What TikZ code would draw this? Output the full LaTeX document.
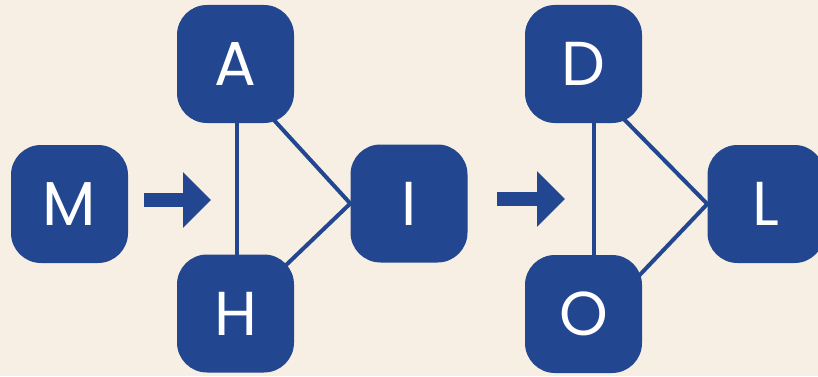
\documentclass[tikz,border=0pt]{standalone}
\usepackage{fontspec}
\setmainfont{Poppins}
\usetikzlibrary{arrows.meta}
\definecolor{letterblue}{RGB}{34,70,143}
\definecolor{paper}{RGB}{247,239,227}
\pgfdeclarelayer{paperlayer}
\pgfdeclarelayer{links}
\pgfsetlayers{paperlayer,links,main}

\begin{document}
\begin{tikzpicture}[x=1pt, y=1pt,
    letter/.style ={rectangle, rounded corners=30pt, fill=letterblue, text=white,
      minimum width=117pt, minimum height=118pt, inner sep=0pt,
      font=\fontsize{62}{62}\selectfont},
    link/.style ={draw=letterblue, line width=4pt},
    blockarrow/.style ={draw=letterblue, line width=14pt,
      -{Triangle[length=28pt, width=54pt]}}]
   \useasboundingbox (0,0) rectangle (818,376);
   \begin{pgfonlayer}{paperlayer}
     \fill[paper] (0,0) rectangle (818,376);
   \end{pgfonlayer}

   \node[letter] (M) at (69.5,172) {M};
   \node[letter] (A) at (235.5,312) {A};
   \node[letter] (H) at (235.5,62.5) {H};
   \node[letter] (I) at (409,172.5) {I};
   \node[letter] (D) at (583.5,312) {D};
   \node[letter] (O) at (583.5,62) {O};
   \node[letter] (L) at (766,172) {L};

   \coordinate (M1) at (144,176);
   \coordinate (M2) at (211,176);
   \coordinate (I1) at (497,177);
   \coordinate (I2) at (565,177);

   \draw[blockarrow] (M1) to (M2);
   \draw[blockarrow] (I1) to (I2);

   \begin{pgfonlayer}{links}
     \draw[link] ([xshift=1.5pt]A.center) to ([xshift=1.5pt]H.center);
     \draw[link] ([yshift=-14pt]A.center) -- (I.west) -- (H.center);
     \draw[link] ([xshift=10pt]D.center) to ([xshift=10pt]O.center);
     \draw[link] ([yshift=-14pt]D.center) -- (L.west) -- ([yshift=-20pt]O.center);
   \end{pgfonlayer}
\end{tikzpicture}
\end{document}
